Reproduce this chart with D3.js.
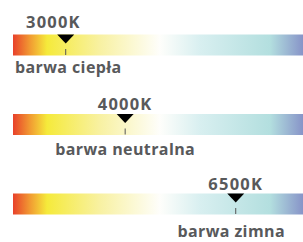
<!DOCTYPE html>
<html>
<head>
<meta charset="utf-8">
<script src="https://cdn.jsdelivr.net/npm/d3@7"></script>
<style>
  body { margin: 0; background: #fff; }
  text { font-family: "Open Sans", "Noto Sans", sans-serif; font-weight: 700; fill: #58595b; }
</style>
</head>
<body>
<svg width="303" height="242"></svg>
<script>
// colour temperatures of the three markers
const temps = [3000, 4000, 6500];
const tempLabels = ["3000K", "4000K", "6500K"];
const names = ["barwa ciepła", "barwa neutralna", "barwa zimna"];

// gradient stops along the kelvin axis
const stopKelvin = [2282, 2497, 2728, 3550, 4691, 5592, 7472, 8506];
const stopColors = ["#e8412b", "#f19a32", "#f5ea3b", "#f8f1a2", "#fefefb", "#d8eff0", "#b3dfdf", "#8794c8"];

const W = 303, barX0 = 13, barX1 = 303, barH = 21;

let svg = d3.select("svg");

//kelvin -> x
let x = d3.scalePow().exponent(0.25).domain([2282, 8506]).range([barX0, barX1]);
//row -> bar top
let y = d3.scalePoint().domain(d3.range(temps.length)).range([34.5, 193.5]);

//gradient
const defs = svg.append("defs");
const grad = defs.append("linearGradient")
  .attr("id", "ct")
  .attr("gradientUnits", "userSpaceOnUse")
  .attr("x1", barX0).attr("x2", barX1)
  .attr("y1", 0).attr("y2", 0);
grad.selectAll("stop")
  .data(stopKelvin)
  .enter().append("stop")
    .attr("offset", k => (x(k) - barX0) / (barX1 - barX0))
    .attr("stop-color", (k, i) => stopColors[i]);

const rows = svg.selectAll("g.row")
  .data(temps)
  .enter().append("g")
    .attr("class", "row")
    .attr("transform", (d, i) => `translate(0,${y(i)})`);

rows.append("rect")
  .attr("x", barX0).attr("y", 0)
  .attr("width", barX1 - barX0).attr("height", barH)
  .attr("fill", "url(#ct)");

rows.append("path")
  .attr("d", d => `M${x(d) - 8.5},0 L${x(d) + 8.5},0 L${x(d)},9 Z`)
  .attr("fill", "#000");

rows.append("line")
  .attr("x1", d => x(d)).attr("x2", d => x(d))
  .attr("y1", 14.5).attr("y2", 20.5)
  .attr("stroke", "#555").attr("stroke-width", 1);

rows.append("text")
  .attr("class", "kelvin")
  .attr("y", (d, i) => i === 0 ? -7 : -4)
  .attr("font-size", 16.5)
  .attr("letter-spacing", 1.2)
  .text((d, i) => tempLabels[i]);

rows.append("text")
  .attr("class", "name")
  .attr("y", (d, i) => barH + 17 + i * 2.5)
  .attr("font-size", 16)
  .attr("letter-spacing", 0.4)
  .text((d, i) => names[i]);

//first label sits at the left inset, the others are centred on the marker
function place(sel, inset) {
  sel.each(function(d, i) {
    const w = this.getComputedTextLength();
    const left = i === 0 ? inset : Math.min(x(d) - w / 2, W - 18 - w);
    d3.select(this).attr("x", left);
  });
}
place(svg.selectAll("text.kelvin"), 26);
place(svg.selectAll("text.name"), 15);
</script>
</body>
</html>
